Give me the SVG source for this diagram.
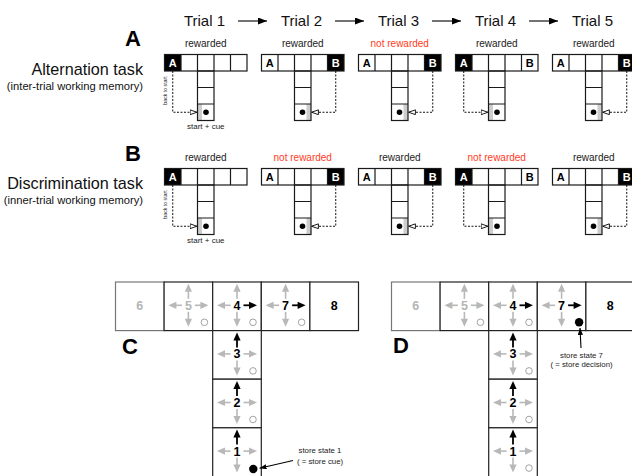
<svg xmlns="http://www.w3.org/2000/svg" xmlns:xlink="http://www.w3.org/1999/xlink" width="632" height="476" viewBox="0 0 632 476">
<style>
text{font-family:"Liberation Sans",Arial,Helvetica,sans-serif;}
.trial{font-size:15px;text-anchor:middle;fill:#111}
.big{font-size:22px;font-weight:bold;text-anchor:end;fill:#000}
.task{font-size:16.2px;text-anchor:end;fill:#111}
.sub{font-size:11.2px;text-anchor:end;fill:#111}
.lab{font-size:10px;text-anchor:middle;fill:#222}
.red{fill:#ff3b24}
.sc{font-size:8px;text-anchor:middle;fill:#222}
.bts{font-size:5.2px;text-anchor:middle;fill:#222}
.lw{font-size:11px;font-weight:bold;text-anchor:middle;fill:#fff}
.lb{font-size:11px;font-weight:bold;text-anchor:middle;fill:#000}
.mz{fill:none;stroke:#1a1a1a;stroke-width:1.2}
.strip{fill:#cdcdcd}
.dash{fill:none;stroke:#111;stroke-width:1;stroke-dasharray:2 1.5;marker-end:url(#open)}
.cell{fill:#fff;stroke:#222;stroke-width:1.2}
.cell6{fill:#fff;stroke:#777;stroke-width:1.2}
.num{font-size:12.5px;font-weight:bold;text-anchor:middle;fill:#000}
.numg{font-size:12.5px;font-weight:bold;text-anchor:middle;fill:#b5b5b5}
.g{stroke:#b8b8b8;fill:#b8b8b8;stroke-width:1.6}
.k{stroke:#000;fill:#000;stroke-width:1.8}
.o{fill:#fff;stroke:#999;stroke-width:0.9}
.note{font-size:7.8px;text-anchor:middle;fill:#222}
.conn{stroke:#000;stroke-width:1.1;fill:none}
</style>
<defs>
<marker id="open" viewBox="0 0 8 6" refX="7.5" refY="3" markerWidth="8" markerHeight="6" markerUnits="userSpaceOnUse" orient="auto">
<path d="M0.6,0.6 L7.4,3 L0.6,5.4 Z" fill="#fff" stroke="#000" stroke-width="0.9" stroke-dasharray="none"/>
</marker>
<marker id="big" viewBox="0 0 9 7" refX="9" refY="3.5" markerWidth="9" markerHeight="7" markerUnits="userSpaceOnUse" orient="auto">
<path d="M0,0 L9,3.5 L0,7 Z" fill="#000"/>
</marker>
<marker id="sm" viewBox="0 0 8 6" refX="8" refY="3" markerWidth="7" markerHeight="5.5" markerUnits="userSpaceOnUse" orient="auto">
<path d="M0,0 L8,3 L0,6 Z" fill="#000"/>
</marker>
<g id="maze">
<rect class="mz" x="0" y="0" width="82.5" height="16.5"/>
<path class="mz" d="M16.5,0V16.5M33,0V16.5M49.5,0V16.5M66,0V16.5"/>
<rect class="mz" x="33" y="16.5" width="16.5" height="49.5"/>
<path class="mz" d="M33,33H49.5M33,49.5H49.5"/>
</g>
<g id="au"><line x1="0" y1="-7.5" x2="0" y2="-15"/><path d="M0,-22.5 L-3.6,-14.5 L3.6,-14.5Z" stroke="none"/></g>
<g id="ad"><line x1="0" y1="5.5" x2="0" y2="13"/><path d="M0,20.5 L-3.6,12.5 L3.6,12.5Z" stroke="none"/></g>
<g id="al"><line x1="-6.5" y1="-1" x2="-13" y2="-1"/><path d="M-20,-1 L-12,-4.6 L-12,2.6Z" stroke="none"/></g>
<g id="ar"><line x1="6.5" y1="-1" x2="13" y2="-1"/><path d="M20,-1 L12,-4.6 L12,2.6Z" stroke="none"/></g>
</defs>

<!-- Trial headers -->
<g id="headers">
<text class="trial" x="204.5" y="26">Trial 1</text>
<text class="trial" x="301.5" y="26">Trial 2</text>
<text class="trial" x="398.5" y="26">Trial 3</text>
<text class="trial" x="495.5" y="26">Trial 4</text>
<text class="trial" x="592.5" y="26">Trial 5</text>
</g>

<!-- Section titles -->
<g id="titleA">
<text class="big" x="141" y="45.5">A</text>
<text class="task" x="143" y="74.5">Alternation task</text>
<text class="sub" x="143" y="90">(inter-trial working memory)</text>
</g>
<g id="titleB">
<text class="big" x="141" y="160.5">B</text>
<text class="task" x="143" y="188.5">Discrimination task</text>
<text class="sub" x="143" y="204">(inner-trial working memory)</text>
</g>

<!-- Section A mazes -->
<g id="a1" transform="translate(164.5,54.5)">
<text class="lab" x="41.25" y="-7.5">rewarded</text>
<rect class="strip" x="33" y="49.5" width="4.5" height="16.5"/>
<rect x="0" y="0" width="16.5" height="16.5" fill="#000"/>
<use href="#maze"/>
<text class="lw" x="8.25" y="12.3">A</text>
<circle cx="41.5" cy="57.75" r="2.8" fill="#000"/>
<path class="dash" d="M8.25,16.5V57.75H32.5"/>
<text class="bts" transform="translate(2.8,36) rotate(-90)">back to start</text>
<text class="sc" x="41.25" y="74.5">start + cue</text>
</g>
<g id="a2" transform="translate(261.5,54.5)">
<text class="lab" x="41.25" y="-7.5">rewarded</text>
<rect class="strip" x="45" y="49.5" width="4.5" height="16.5"/>
<rect x="66" y="0" width="16.5" height="16.5" fill="#000"/>
<use href="#maze"/>
<text class="lb" x="8.25" y="12.3">A</text>
<text class="lw" x="74.25" y="12.3">B</text>
<circle cx="41" cy="57.75" r="2.8" fill="#000"/>
<path class="dash" d="M74.25,16.5V57.75H50"/>
</g>
<g id="a3" transform="translate(358.5,54.5)">
<text class="lab red" x="41.25" y="-7.5">not rewarded</text>
<rect class="strip" x="45" y="49.5" width="4.5" height="16.5"/>
<rect x="66" y="0" width="16.5" height="16.5" fill="#000"/>
<use href="#maze"/>
<text class="lb" x="8.25" y="12.3">A</text>
<text class="lw" x="74.25" y="12.3">B</text>
<circle cx="41" cy="57.75" r="2.8" fill="#000"/>
<path class="dash" d="M74.25,16.5V57.75H50"/>
</g>
<g id="a4" transform="translate(455.5,54.5)">
<text class="lab" x="41.25" y="-7.5">rewarded</text>
<rect class="strip" x="33" y="49.5" width="4.5" height="16.5"/>
<rect x="0" y="0" width="16.5" height="16.5" fill="#000"/>
<use href="#maze"/>
<text class="lw" x="8.25" y="12.3">A</text>
<text class="lb" x="74.25" y="12.3">B</text>
<circle cx="41.5" cy="57.75" r="2.8" fill="#000"/>
<path class="dash" d="M8.25,16.5V57.75H32.5"/>
</g>
<g id="a5" transform="translate(552.5,54.5)">
<text class="lab" x="41.25" y="-7.5">rewarded</text>
<rect class="strip" x="45" y="49.5" width="4.5" height="16.5"/>
<rect x="66" y="0" width="16.5" height="16.5" fill="#000"/>
<use href="#maze"/>
<text class="lb" x="8.25" y="12.3">A</text>
<text class="lw" x="74.25" y="12.3">B</text>
<circle cx="41" cy="57.75" r="2.8" fill="#000"/>
<path class="dash" d="M74.25,16.5V57.75H50"/>
</g>

<!-- Section B mazes -->
<g id="b1" transform="translate(164.5,168.5)">
<text class="lab" x="41.25" y="-7.5">rewarded</text>
<rect class="strip" x="33" y="49.5" width="4.5" height="16.5"/>
<rect x="0" y="0" width="16.5" height="16.5" fill="#000"/>
<use href="#maze"/>
<text class="lw" x="8.25" y="12.3">A</text>
<circle cx="41.5" cy="57.75" r="2.8" fill="#000"/>
<path class="dash" d="M8.25,16.5V57.75H32.5"/>
<text class="bts" transform="translate(2.8,36) rotate(-90)">back to start</text>
<text class="sc" x="41.25" y="74.5">start + cue</text>
</g>
<g id="b2" transform="translate(261.5,168.5)">
<text class="lab red" x="41.25" y="-7.5">not rewarded</text>
<rect class="strip" x="45" y="49.5" width="4.5" height="16.5"/>
<rect x="66" y="0" width="16.5" height="16.5" fill="#000"/>
<use href="#maze"/>
<text class="lb" x="8.25" y="12.3">A</text>
<text class="lw" x="74.25" y="12.3">B</text>
<circle cx="41" cy="57.75" r="2.8" fill="#000"/>
<path class="dash" d="M74.25,16.5V57.75H50"/>
</g>
<g id="b3" transform="translate(358.5,168.5)">
<text class="lab" x="41.25" y="-7.5">rewarded</text>
<rect class="strip" x="45" y="49.5" width="4.5" height="16.5"/>
<rect x="66" y="0" width="16.5" height="16.5" fill="#000"/>
<use href="#maze"/>
<text class="lb" x="8.25" y="12.3">A</text>
<text class="lw" x="74.25" y="12.3">B</text>
<circle cx="41" cy="57.75" r="2.8" fill="#000"/>
<path class="dash" d="M74.25,16.5V57.75H50"/>
</g>
<g id="b4" transform="translate(455.5,168.5)">
<text class="lab red" x="41.25" y="-7.5">not rewarded</text>
<rect class="strip" x="33" y="49.5" width="4.5" height="16.5"/>
<rect x="0" y="0" width="16.5" height="16.5" fill="#000"/>
<use href="#maze"/>
<text class="lw" x="8.25" y="12.3">A</text>
<text class="lb" x="74.25" y="12.3">B</text>
<circle cx="41.5" cy="57.75" r="2.8" fill="#000"/>
<path class="dash" d="M8.25,16.5V57.75H32.5"/>
</g>
<g id="b5" transform="translate(552.5,168.5)">
<text class="lab" x="41.25" y="-7.5">rewarded</text>
<rect class="strip" x="45" y="49.5" width="4.5" height="16.5"/>
<rect x="66" y="0" width="16.5" height="16.5" fill="#000"/>
<use href="#maze"/>
<text class="lb" x="8.25" y="12.3">A</text>
<text class="lw" x="74.25" y="12.3">B</text>
<circle cx="41" cy="57.75" r="2.8" fill="#000"/>
<path class="dash" d="M74.25,16.5V57.75H50"/>
</g>

<!-- Section C -->
<g id="C" transform="translate(115.5,282)">
<g id="c6"><rect class="cell6" x="0" y="0" width="48.6" height="48.6"/><text class="numg" x="24.3" y="27.8" font-weight="normal">6</text></g>
<g id="c5"><rect class="cell" x="48.6" y="0" width="48.6" height="48.6"/><text class="numg" x="72.9" y="27.8">5</text>
<use href="#au" x="72.9" y="24.3" class="g"/><use href="#ad" x="72.9" y="24.3" class="g"/><use href="#al" x="72.9" y="24.3" class="g"/><use href="#ar" x="72.9" y="24.3" class="g"/><circle class="o" cx="88.9" cy="40.3" r="3.3"/></g>
<g id="c4"><rect class="cell" x="97.2" y="0" width="48.6" height="48.6"/><text class="num" x="121.5" y="27.8">4</text>
<use href="#au" x="121.5" y="24.3" class="g"/><use href="#ad" x="121.5" y="24.3" class="g"/><use href="#al" x="121.5" y="24.3" class="g"/><use href="#ar" x="121.5" y="24.3" class="k"/><circle class="o" cx="137.5" cy="40.3" r="3.3"/></g>
<g id="c7"><rect class="cell" x="145.8" y="0" width="48.6" height="48.6"/><text class="num" x="170.1" y="27.8">7</text>
<use href="#au" x="170.1" y="24.3" class="g"/><use href="#ad" x="170.1" y="24.3" class="g"/><use href="#al" x="170.1" y="24.3" class="g"/><use href="#ar" x="170.1" y="24.3" class="k"/><circle class="o" cx="186.1" cy="40.3" r="3.3"/></g>
<g id="c8"><rect class="cell" x="194.4" y="0" width="48.6" height="48.6"/><text class="num" x="218.7" y="27.8">8</text></g>
<g id="c3"><rect class="cell" x="97.2" y="48.6" width="48.6" height="48.6"/><text class="num" x="121.5" y="76.4">3</text>
<use href="#au" x="121.5" y="72.9" class="k"/><use href="#ad" x="121.5" y="72.9" class="g"/><use href="#al" x="121.5" y="72.9" class="g"/><use href="#ar" x="121.5" y="72.9" class="g"/><circle class="o" cx="137.5" cy="88.9" r="3.3"/></g>
<g id="c2"><rect class="cell" x="97.2" y="97.2" width="48.6" height="48.6"/><text class="num" x="121.5" y="125">2</text>
<use href="#au" x="121.5" y="121.5" class="k"/><use href="#ad" x="121.5" y="121.5" class="g"/><use href="#al" x="121.5" y="121.5" class="g"/><use href="#ar" x="121.5" y="121.5" class="g"/><circle class="o" cx="137.5" cy="137.5" r="3.3"/></g>
<g id="c1"><rect class="cell" x="97.2" y="145.8" width="48.6" height="52"/><text class="num" x="121.5" y="173.6">1</text>
<use href="#au" x="121.5" y="170.1" class="k"/><use href="#ad" x="121.5" y="170.1" class="g"/><use href="#al" x="121.5" y="170.1" class="g"/><use href="#ar" x="121.5" y="170.1" class="g"/><circle cx="137.8" cy="187" r="4.2" fill="#000"/></g>
</g>
<text class="big" x="122" y="353.5" style="text-anchor:start">C</text>
<text class="note" x="320" y="452.5">store state 1</text>
<text class="note" x="320" y="463.5">( = store cue)</text>

<!-- Section D -->
<g id="D" transform="translate(391.5,282)">
<g id="d6"><rect class="cell6" x="0" y="0" width="48.6" height="48.6"/><text class="numg" x="24.3" y="27.8" font-weight="normal">6</text></g>
<g id="d5"><rect class="cell" x="48.6" y="0" width="48.6" height="48.6"/><text class="numg" x="72.9" y="27.8">5</text>
<use href="#au" x="72.9" y="24.3" class="g"/><use href="#ad" x="72.9" y="24.3" class="g"/><use href="#al" x="72.9" y="24.3" class="g"/><use href="#ar" x="72.9" y="24.3" class="g"/><circle class="o" cx="88.9" cy="40.3" r="3.3"/></g>
<g id="d4"><rect class="cell" x="97.2" y="0" width="48.6" height="48.6"/><text class="num" x="121.5" y="27.8">4</text>
<use href="#au" x="121.5" y="24.3" class="g"/><use href="#ad" x="121.5" y="24.3" class="g"/><use href="#al" x="121.5" y="24.3" class="g"/><use href="#ar" x="121.5" y="24.3" class="k"/><circle class="o" cx="137.5" cy="40.3" r="3.3"/></g>
<g id="d7"><rect class="cell" x="145.8" y="0" width="48.6" height="48.6"/><text class="num" x="170.1" y="27.8">7</text>
<use href="#au" x="170.1" y="24.3" class="g"/><use href="#ad" x="170.1" y="24.3" class="g"/><use href="#al" x="170.1" y="24.3" class="g"/><use href="#ar" x="170.1" y="24.3" class="k"/><circle cx="187.6" cy="40.3" r="4.2" fill="#000"/></g>
<g id="d8"><rect class="cell" x="194.4" y="0" width="48.6" height="48.6"/><text class="num" x="218.7" y="27.8">8</text></g>
<g id="d3"><rect class="cell" x="97.2" y="48.6" width="48.6" height="48.6"/><text class="num" x="121.5" y="76.4">3</text>
<use href="#au" x="121.5" y="72.9" class="k"/><use href="#ad" x="121.5" y="72.9" class="g"/><use href="#al" x="121.5" y="72.9" class="g"/><use href="#ar" x="121.5" y="72.9" class="g"/><circle class="o" cx="137.5" cy="88.9" r="3.3"/></g>
<g id="d2"><rect class="cell" x="97.2" y="97.2" width="48.6" height="48.6"/><text class="num" x="121.5" y="125">2</text>
<use href="#au" x="121.5" y="121.5" class="k"/><use href="#ad" x="121.5" y="121.5" class="g"/><use href="#al" x="121.5" y="121.5" class="g"/><use href="#ar" x="121.5" y="121.5" class="g"/><circle class="o" cx="137.5" cy="137.5" r="3.3"/></g>
<g id="d1"><rect class="cell" x="97.2" y="145.8" width="48.6" height="52"/><text class="num" x="121.5" y="173.6">1</text>
<use href="#au" x="121.5" y="170.1" class="k"/><use href="#ad" x="121.5" y="170.1" class="g"/><use href="#al" x="121.5" y="170.1" class="g"/><use href="#ar" x="121.5" y="170.1" class="g"/><circle class="o" cx="137.5" cy="186.1" r="3.3"/></g>
</g>
<text class="big" x="393" y="353" style="text-anchor:start">D</text>
<text class="note" x="581.5" y="357.5">store state 7</text>
<text class="note" x="581.5" y="366.5">( = store decision)</text>

<!-- Connectors -->
<g id="connectors">
<line class="conn" x1="238" y1="21" x2="267" y2="21" marker-end="url(#big)"/>
<line class="conn" x1="335" y1="21" x2="364" y2="21" marker-end="url(#big)"/>
<line class="conn" x1="432" y1="21" x2="461" y2="21" marker-end="url(#big)"/>
<line class="conn" x1="529" y1="21" x2="558" y2="21" marker-end="url(#big)"/>
<line class="conn" x1="293" y1="460.5" x2="259.5" y2="468.3" marker-end="url(#sm)"/>
<line class="conn" x1="581" y1="348" x2="580" y2="328" marker-end="url(#sm)"/>
</g>
</svg>
